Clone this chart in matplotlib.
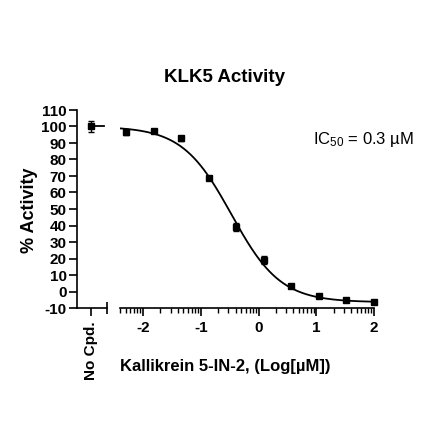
import numpy as np
import matplotlib
matplotlib.use("Agg")
import matplotlib.pyplot as plt

plt.rcParams['font.family'] = ['Liberation Sans', 'DejaVu Sans']
plt.rcParams['mathtext.default'] = 'regular'

# Data
log_conc = [-2.294, -1.817, -1.340, -0.862, -0.385, 0.092, 0.569, 1.046, 1.523, 2.0]
activity = [96.5, 97.5, 92.8, 69.0, 39.3, 19.1, 3.3, -2.5, -5.0, -6.2]
errors = [1.5, 1.0, 1.5, 1.0, 2.5, 2.5, 1.0, 1.0, 1.0, 1.0]
nocpd_value = 100.0
nocpd_error = 3.5
# Fit parameters (4PL)
top, bottom, log_ic50, hill = 100.0, -6.5, -0.47, 1.02
yticks = list(range(-10, 111, 10))
xticks = [-2, -1, 0, 1, 2]

fig = plt.figure(figsize=(4.4, 4.4), dpi=100)
ax1 = fig.add_axes([0.175, 0.30, 0.068, 0.45])
ax2 = fig.add_axes([0.2727, 0.30, 0.5773, 0.45], sharey=ax1)

lw = 1.2
fs = 11
for ax in (ax1, ax2):
    ax.spines['top'].set_visible(False)
    ax.spines['right'].set_visible(False)
    ax.spines['left'].set_linewidth(lw)
    ax.spines['bottom'].set_linewidth(lw)
    ax.tick_params(width=lw, length=6, labelsize=fs)

# Left panel
ax1.set_xlim(0, 1)
ax1.set_ylim(-10, 110)
ax1.set_yticks(yticks)
ax1.set_yticklabels([str(v) for v in yticks], fontweight='bold', fontsize=fs)
ax1.tick_params(axis='y', pad=1.5)
ax1.errorbar([0.47], [nocpd_value], yerr=[nocpd_error], fmt='s', color='black',
             ms=5, capsize=2.5, elinewidth=1, capthick=1)
ax1.plot([0.47, 0.9], [nocpd_value, nocpd_value], color='black', lw=1.3)
ax1.set_xticks([0.47])
ax1.set_xticklabels(['No Cpd.'], rotation=90, fontweight='bold', fontsize=fs)
ax1.set_xticks([1.0], minor=True)
ax1.tick_params(axis='x', which='minor', direction='inout', length=9, width=lw)

# Right panel
ax2.spines['left'].set_visible(False)
ax2.tick_params(axis='y', left=False, labelleft=False)
ax2.set_xlim(-2.4, 2.0)
ax2.set_xticks(xticks)
ax2.set_xticklabels([str(v) for v in xticks], fontweight='bold', fontsize=fs)
minor = []
for d in range(-3, 2):
    for k in range(2, 10):
        v = d + np.log10(k)
        if -2.41 <= v <= 2.0:
            minor.append(v)
ax2.set_xticks(minor, minor=True)
ax2.tick_params(axis='x', which='minor', length=3.5, width=1)

xs = np.linspace(-2.4, 2.0, 300)
ys = bottom + (top - bottom) / (1 + 10 ** ((xs - log_ic50) * hill))
ax2.plot(xs, ys, color='black', lw=1.3)
ax2.errorbar(log_conc, activity, yerr=errors, fmt='s', color='black',
             ms=5, capsize=2.5, elinewidth=1, capthick=1, clip_on=False)

ax2.text(0.76, 0.853, 'IC$_{50}$ = 0.3 µM', transform=ax2.transAxes,
         fontsize=12, va='center', ha='left')

fig.text(0.51, 0.825, 'KLK5 Activity', ha='center', va='center',
         fontsize=13.5, fontweight='bold')
fig.text(0.068, 0.523, '% Activity', rotation=90, ha='center', va='center',
         fontsize=13, fontweight='bold')
fig.text(0.2727, 0.166, 'Kallikrein 5-IN-2, (Log[µM])', ha='left', va='center',
         fontsize=12, fontweight='bold')

fig.savefig('out.png', dpi=100)
